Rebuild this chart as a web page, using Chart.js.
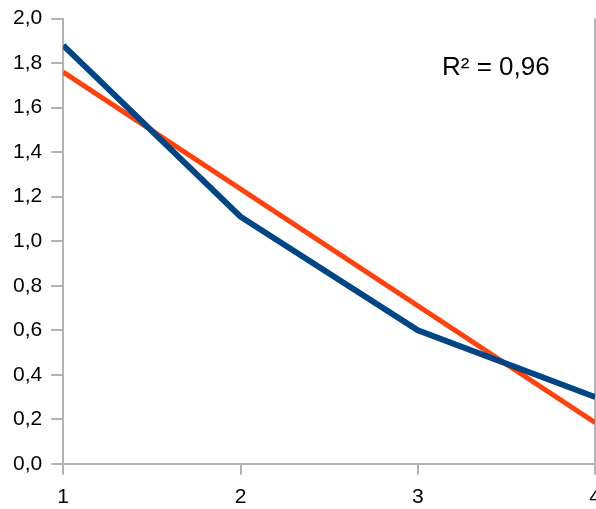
<!DOCTYPE html>
<html>
<head>
<meta charset="utf-8">
<script src="https://cdn.jsdelivr.net/npm/chart.js@4/dist/chart.umd.min.js"></script>
<style>
  html, body { margin: 0; padding: 0; background: #fff; overflow: hidden; }
  #wrap { width: 596px; height: 509px; overflow: hidden; }
  #box { width: 611px; height: 523px; margin-top: -3px; }
</style>
</head>
<body>
<div id="wrap"><div id="box"><canvas id="myChart"></canvas></div></div>
<script>
const xValues = [1, 2, 3, 4];
const seriesValues = [1.88, 1.11, 0.60, 0.30];
const trendX = [1, 4];
const trendValues = [1.76, 0.185];
const rSquaredText = "R² = 0,96";

const fmt = (v) => v.toFixed(1).replace(".", ",");

const toPoints = (xs, ys) => xs.map((x, i) => ({ x: x, y: ys[i] }));

const labelPlugin = {
    id: "rsquared",
    afterDraw(chart) {
        const ctx = chart.ctx;
        ctx.save();
        ctx.font = "26px 'Liberation Sans', Arial, sans-serif";
        ctx.fillStyle = "#000";
        ctx.textBaseline = "middle";
        ctx.fillText(rSquaredText, 442, 71);
        ctx.restore();
    }
};

const font = { family: "'Liberation Sans', Arial, sans-serif", size: 21 };

new Chart(document.querySelector("#myChart"), {
    type: "scatter",
    data: {
        datasets: [
            {
                data: toPoints(xValues, seriesValues),
                showLine: true,
                borderColor: "#004586",
                borderWidth: 6,
                pointRadius: 0,
                tension: 0
            },
            {
                data: toPoints(trendX, trendValues),
                showLine: true,
                borderColor: "#ff420e",
                borderWidth: 5,
                pointRadius: 0,
                tension: 0
            }
        ]
    },
    options: {
        responsive: true,
        maintainAspectRatio: false,
        animation: false,
        layout: { padding: { left: 4, top: 0, right: 0, bottom: 0 } },
        plugins: { legend: { display: false }, tooltip: { enabled: false } },
        scales: {
            x: {
                type: "linear",
                min: 1,
                max: 4,
                ticks: { stepSize: 1, color: "#000", font: font, padding: 10 },
                border: { color: "#b3b3b3", width: 2 },
                grid: {
                    color: (c) => (c.tick && c.tick.value === 4 ? "#b3b3b3" : "rgba(0,0,0,0)"),
                    lineWidth: 2,
                    tickColor: "#b3b3b3",
                    tickLength: 11
                }
            },
            y: {
                min: 0,
                max: 2,
                ticks: { stepSize: 0.2, color: "#000", font: font, padding: 9, callback: (v) => fmt(v) },
                border: { color: "#b3b3b3", width: 2 },
                grid: { drawOnChartArea: false, color: "#b3b3b3", lineWidth: 2, tickLength: 12 }
            }
        }
    },
    plugins: [labelPlugin]
});
</script>
</body>
</html>
